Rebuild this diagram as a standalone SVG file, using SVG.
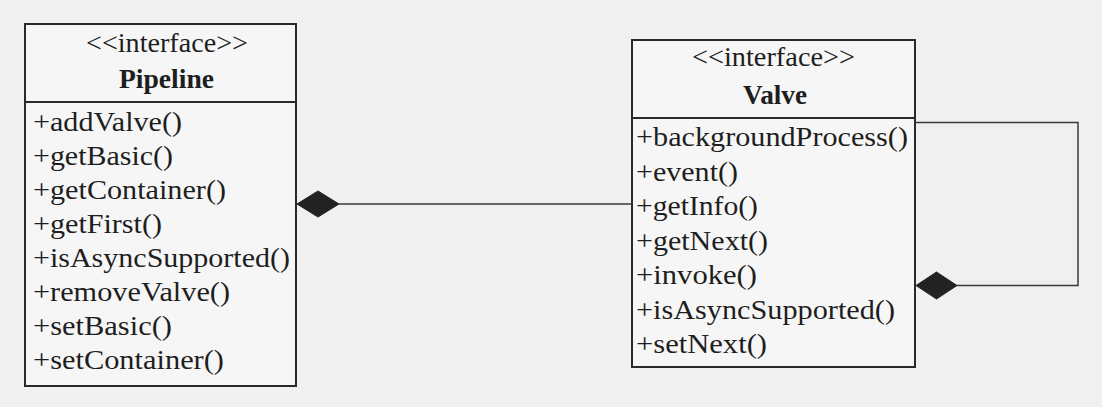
<svg xmlns="http://www.w3.org/2000/svg" width="1102" height="407" viewBox="0 0 1102 407">
  <style>
    .box { fill: #f6f6f6; stroke: #2a2a2a; stroke-width: 2; }
    .div { stroke: #2a2a2a; stroke-width: 2; }
    .b { font-weight: bold; }
    .conn { fill: none; stroke: #3a3a3a; stroke-width: 1.5; }
    .dia { fill: #222; stroke: #222; stroke-width: 1; }
  </style>
  <rect x="0" y="0" width="1102" height="407" fill="#f0f0f0"/>

  <g id="pipeline" font-family="'Liberation Serif', 'Times New Roman', serif" font-size="27" fill="#1e1e1e">
    <rect class="box" x="25" y="24" width="271" height="362"/>
    <line class="div" x1="25" y1="102" x2="296" y2="102"/>
    <text x="86" y="52" textLength="162" lengthAdjust="spacingAndGlyphs">&lt;&lt;interface&gt;&gt;</text>
    <text class="b" x="119" y="88" textLength="95" lengthAdjust="spacingAndGlyphs">Pipeline</text>
    <text x="33" y="131" textLength="149" lengthAdjust="spacingAndGlyphs">+addValve()</text>
    <text x="33" y="165" textLength="140" lengthAdjust="spacingAndGlyphs">+getBasic()</text>
    <text x="33" y="199" textLength="193" lengthAdjust="spacingAndGlyphs">+getContainer()</text>
    <text x="33" y="233" textLength="129" lengthAdjust="spacingAndGlyphs">+getFirst()</text>
    <text x="33" y="267" textLength="257" lengthAdjust="spacingAndGlyphs">+isAsyncSupported()</text>
    <text x="33" y="301" textLength="197" lengthAdjust="spacingAndGlyphs">+removeValve()</text>
    <text x="33" y="335" textLength="139" lengthAdjust="spacingAndGlyphs">+setBasic()</text>
    <text x="33" y="369" textLength="191" lengthAdjust="spacingAndGlyphs">+setContainer()</text>
  </g>

  <g id="valve" font-family="'Liberation Serif', 'Times New Roman', serif" font-size="27" fill="#1e1e1e">
    <rect class="box" x="632" y="40" width="283" height="327"/>
    <line class="div" x1="632" y1="118" x2="915" y2="118"/>
    <text x="692" y="66" textLength="163" lengthAdjust="spacingAndGlyphs">&lt;&lt;interface&gt;&gt;</text>
    <text class="b" x="743" y="104" textLength="64" lengthAdjust="spacingAndGlyphs">Valve</text>
    <text x="636" y="146" textLength="272" lengthAdjust="spacingAndGlyphs">+backgroundProcess()</text>
    <text x="636" y="180.5" textLength="102" lengthAdjust="spacingAndGlyphs">+event()</text>
    <text x="636" y="215" textLength="122" lengthAdjust="spacingAndGlyphs">+getInfo()</text>
    <text x="636" y="249.5" textLength="132" lengthAdjust="spacingAndGlyphs">+getNext()</text>
    <text x="636" y="284" textLength="121" lengthAdjust="spacingAndGlyphs">+invoke()</text>
    <text x="636" y="318.5" textLength="259" lengthAdjust="spacingAndGlyphs">+isAsyncSupported()</text>
    <text x="636" y="353" textLength="131" lengthAdjust="spacingAndGlyphs">+setNext()</text>
  </g>

  <g id="connectors">
    <line class="conn" x1="339" y1="204" x2="632" y2="204"/>
    <polygon class="dia" points="297,204 318,191 339,204 318,217"/>
    <polyline class="conn" points="915,122.5 1078,122.5 1078,285.5 957,285.5"/>
    <polygon class="dia" points="916,285.5 936.5,272 957,285.5 936.5,299"/>
  </g>
</svg>
